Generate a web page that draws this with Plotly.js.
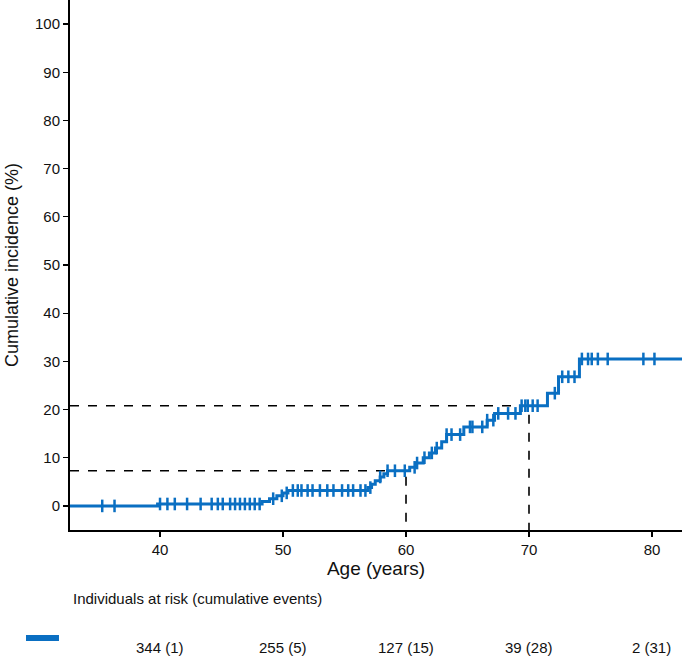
<!DOCTYPE html>
<html>
<head>
<meta charset="utf-8">
<script src="https://cdn.plot.ly/plotly-3.0.1.min.js"></script>
<style>html,body{margin:0;padding:0;background:#fff;}#chart{width:685px;height:657px;}</style>
</head>
<body>
<div id="chart"></div>
<script>
// Step curve: event ages and cumulative incidence (%) after each event
const eventAges = [39.8, 48.3, 48.9, 49.5, 50.0, 50.4, 56.9, 57.2, 57.5, 57.9, 58.2, 58.5,
  60.3, 60.8, 61.4, 61.9, 62.4, 62.9, 63.3, 64.7, 66.6, 67.2, 69.3, 71.5, 72.4, 74.1];
const cumIncidence = [0.4, 0.9, 1.5, 2.1, 2.7, 3.2, 3.8, 4.5, 5.2, 6.0, 6.7, 7.3,
  8.0, 8.9, 10.0, 11.0, 12.0, 13.3, 14.8, 16.4, 17.8, 19.2, 20.8, 23.4, 26.8, 30.5];
const startAge = 32.0;
const endAge = 82.5;

// Censoring ages
const censorAges = [35.3, 36.3, 40.0, 40.6, 41.2, 42.2, 43.3, 44.2, 44.7, 45.1, 45.7, 46.1,
  46.5, 46.9, 47.3, 47.7, 48.1, 49.2, 49.9, 50.3, 50.8, 51.2, 51.5, 52.0, 52.4, 53.0, 53.6,
  54.1, 54.8, 55.3, 55.7, 56.3, 56.7, 57.1, 57.9, 58.5, 59.1, 59.9, 60.7, 60.9, 61.5, 62.1,
  62.5, 63.3, 63.7, 64.4, 65.2, 65.4, 66.2, 66.6, 67.1, 67.5, 68.3, 68.9, 69.4, 69.7, 69.9,
  70.3, 70.7, 72.1, 72.7, 73.2, 73.7, 74.3, 74.8, 75.1, 75.6, 76.4, 79.3, 80.2];

// Reference (dashed) lines
const refAges = [60, 70];
const refLevels = [7.3, 20.8];

// Risk table
const riskAges = [40, 50, 60, 70, 80];
const riskLabels = ["344 (1)", "255 (5)", "127 (15)", "39 (28)", "2 (31)"];

const BLUE = "#0a6fc2";
const XMIN = 32.68, XMAX = 82.44, YMIN = -5, YMAX = 105;

function levelAt(a) {
  let v = 0;
  for (let i = 0; i < eventAges.length; i++) { if (eventAges[i] <= a) v = cumIncidence[i]; }
  return v;
}

const stepX = [startAge].concat(eventAges, [endAge]);
const stepY = [0].concat(cumIncidence, [cumIncidence[cumIncidence.length - 1]]);

const traces = [];
// dashed reference lines
refAges.forEach((a, i) => {
  traces.push({x: [XMIN, a, a], y: [refLevels[i], refLevels[i], YMIN], mode: "lines",
    line: {color: "#000", width: 1.6, dash: "dash"}, hoverinfo: "skip", showlegend: false, cliponaxis: false});
});
traces.push({x: stepX, y: stepY, mode: "lines", line: {color: BLUE, width: 3, shape: "hv"}, showlegend: false});
traces.push({x: censorAges, y: censorAges.map(levelAt), mode: "markers",
  marker: {symbol: "line-ns-open", size: 9, color: BLUE, line: {color: BLUE, width: 2.5}}, showlegend: false});

const font = {family: "Liberation Sans, Arial, sans-serif", color: "#111"};
const annotations = [{
  xref: "paper", yref: "paper", x: 0.0016, y: -0.130, xanchor: "left", yanchor: "middle",
  text: "Individuals at risk (cumulative events)", showarrow: false, font: Object.assign({size: 15}, font)
}];
riskAges.forEach((a, i) => annotations.push({
  xref: "x", yref: "paper", x: a, y: -0.2208, xanchor: "center", yanchor: "middle",
  text: riskLabels[i], showarrow: false, font: Object.assign({size: 15}, font)
}));

const layout = {
  width: 685, height: 657,
  margin: {l: 70, r: 3, t: 0, b: 127},
  paper_bgcolor: "#fff", plot_bgcolor: "#fff",
  font: Object.assign({size: 15}, font),
  showlegend: false,
  xaxis: {
    range: [XMIN, XMAX], tickvals: riskAges, ticks: "outside", ticklen: 5, tickwidth: 1.2, tickcolor: "#000",
    showgrid: false, zeroline: false, showline: true, linecolor: "#000", linewidth: 2,
    tickfont: Object.assign({size: 15}, font),
    title: {text: "Age (years)", font: Object.assign({size: 19}, font), standoff: 3}
  },
  yaxis: {
    range: [YMIN, YMAX], tickvals: [0,10,20,30,40,50,60,70,80,90,100], ticks: "outside", ticklen: 5, tickwidth: 1.2, tickcolor: "#000",
    showgrid: false, zeroline: false, showline: true, linecolor: "#000", linewidth: 2,
    tickfont: Object.assign({size: 15}, font),
    title: {text: "Cumulative incidence (%)", font: Object.assign({size: 18}, font), standoff: 12}
  },
  shapes: [{type: "line", xref: "paper", yref: "paper", x0: -0.0719, x1: -0.018, y0: -0.2038, y1: -0.2038,
    line: {color: BLUE, width: 6}}],
  annotations: annotations
};

Plotly.newPlot("chart", traces, layout, {displayModeBar: false, staticPlot: true});
</script>
</body>
</html>
